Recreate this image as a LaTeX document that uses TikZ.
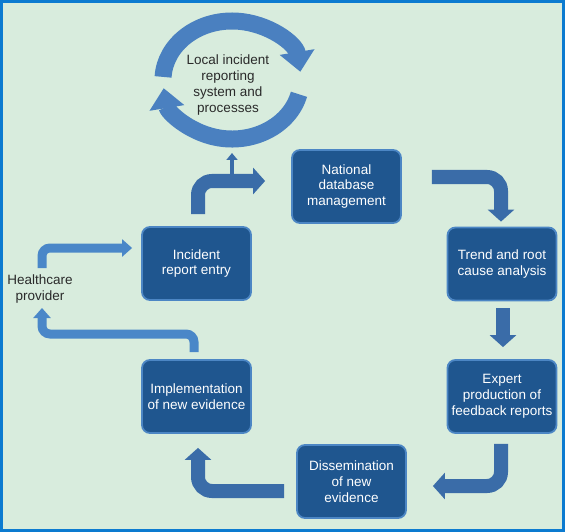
\documentclass[tikz,border=0pt]{standalone}
\usepackage{fontspec}
\setmainfont{Liberation Sans}
\usetikzlibrary{arrows.meta,calc}
\definecolor{bg}{HTML}{D8ECDD}
\definecolor{frame}{HTML}{0C7BD0}
\definecolor{boxfill}{HTML}{1F568F}
\definecolor{boxline}{HTML}{4C86C4}
\definecolor{thick}{HTML}{3A6CA8}
\definecolor{thin}{HTML}{4A87C8}
\definecolor{circ}{HTML}{4A80C0}
\definecolor{txt}{HTML}{2A2A2A}
\tikzset{
  stepbox/.style={rectangle, rounded corners=8pt, fill=boxfill, draw=boxline, line width=1.8pt,
    minimum width=109pt, minimum height=73pt, inner sep=0pt, text=white, align=center,
    font=\fontsize{13.5}{15.8}\selectfont},
  plain/.style={align=center, text=txt, font=\fontsize{13.5}{15.8}\selectfont, inner sep=0pt},
  thickarrow/.style={draw=thick, line width=14pt, rounded corners=14pt, line cap=butt,
    -{Triangle[width=26pt,length=12pt]}},
  thinarrow/.style={draw=thin, line width=9pt, rounded corners=8pt, line cap=butt,
    -{Triangle[width=17pt,length=10pt]}},
  circarrow/.style={draw=circ, line width=17pt, line cap=butt,
    -{Triangle[width=34pt,length=20pt]}},
  smallarrow/.style={draw=thick, line width=4pt, line cap=butt,
    -{Triangle[width=11pt,length=7pt]}}
}
\begin{document}
\begin{tikzpicture}[x=1pt,y=-1pt]
\useasboundingbox (0,0) rectangle (565,532);
\fill[bg] (0,0) rectangle (565,532);
\draw[frame, line width=3pt] (1.5,1.5) rectangle (563.5,530.5);

% nodes
\node[stepbox] (inc) at (196.5,263.5) {Incident\\report entry};
\node[stepbox] (nat) at (346.5,186.5) {National\\database\\management};
\node[stepbox] (trend) at (502,264) {Trend and root\\cause analysis};
\node[stepbox] (exp) at (502,396.5) {Expert\\production of\\feedback reports};
\node[stepbox] (dis) at (351.5,481.5) {Dissemination\\of new\\evidence};
\node[stepbox] (imp) at (196.5,396.5) {Implementation\\of new evidence};
\node[plain] (hc) at (40,289) {Healthcare\\provider};
\node[plain] (local) at (228,85) {Local incident\\reporting\\system and\\processes};

% circular arrows
\coordinate (cc) at (232,80);
\draw[circarrow] ([shift={(183:69 and 59)}]cc) arc[start angle=183, end angle=352, x radius=69, y radius=59];
\draw[circarrow] ([shift={(14:69 and 59)}]cc) arc[start angle=14, end angle=172, x radius=69, y radius=59];

% thick arrows
\draw[thickarrow] ($(inc.north)+(1.5,-12)$) |- ($(nat.west)+(-26,-5.5)$);
\coordinate (branch) at ($(inc.north)+(35.5,-52)$);
\draw[smallarrow] (branch) -- ($(cc)+(0,73)$);
\draw[thickarrow] ($(nat.east)+(30,-9.5)$) -| ($(trend.north)+(-1,-5)$);
\draw[thickarrow] ($(trend.south)+(1,7)$) -- ($(exp.north)+(1,-12)$);
\draw[thickarrow] ($(exp.south)+(-1,10)$) |- ($(dis.east)+(26,4.5)$);
\draw[thickarrow] ($(dis.west)+(-12,9.5)$) -| ($(imp.south)+(1.5,14)$);

% thin arrows
\draw[thinarrow] ($(hc.center)+(2,-21)$) |- ($(inc.west)+(-9,-15.5)$);
\draw[thinarrow] ($(imp.north)+(-2.5,-7)$) |- ($(hc.center)+(2,45)$) -- ($(hc.center)+(2,19)$);
\end{tikzpicture}
\end{document}
